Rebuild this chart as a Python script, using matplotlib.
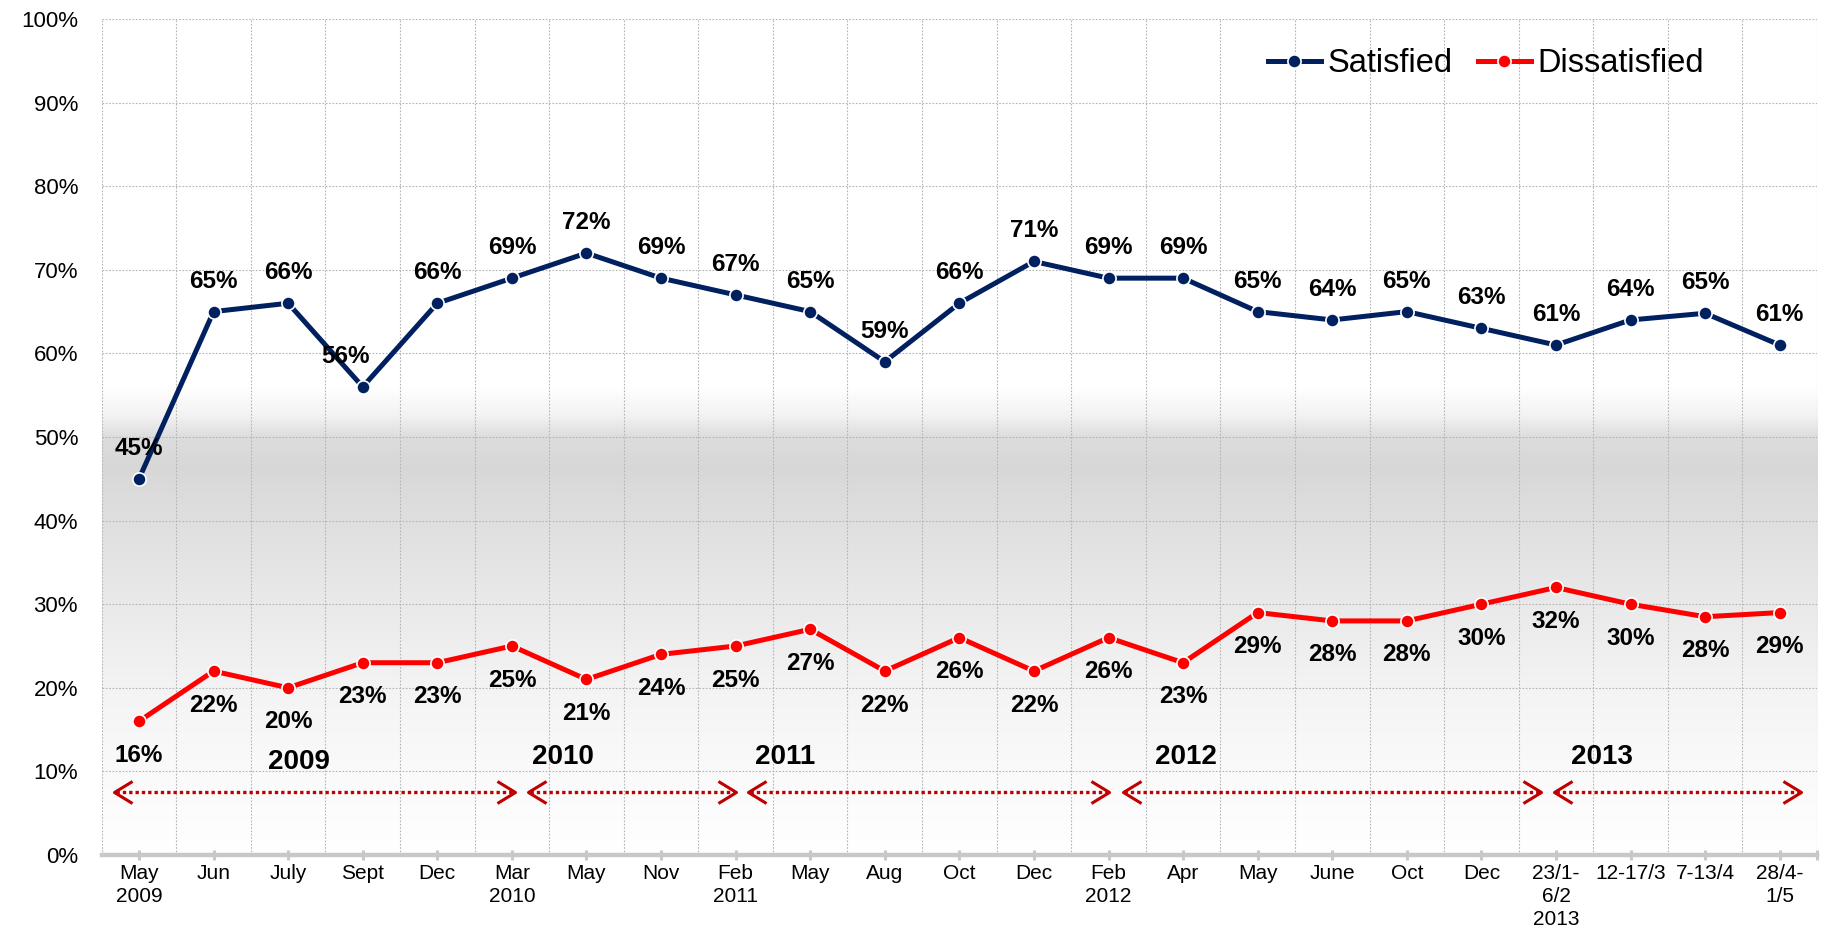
import numpy as np
import matplotlib
matplotlib.use("Agg")
import matplotlib.pyplot as plt
from matplotlib.path import Path

plt.rcParams['font.family'] = ['Liberation Sans', 'DejaVu Sans']

categories = ["May\n2009", "Jun", "July", "Sept", "Dec", "Mar\n2010", "May", "Nov",
              "Feb\n2011", "May", "Aug", "Oct", "Dec", "Feb\n2012", "Apr", "May",
              "June", "Oct", "Dec", "23/1-\n6/2\n2013", "12-17/3", "7-13/4", "28/4-\n1/5"]
satisfied = [45, 65, 66, 56, 66, 69, 72, 69, 67, 65, 59, 66, 71, 69, 69, 65, 64, 65, 63, 61, 64, 64.8, 61]
dissatisfied = [16, 22, 20, 23, 23, 25, 21, 24, 25, 27, 22, 26, 22, 26, 23, 29, 28, 28, 30, 32, 30, 28.5, 29]
year_labels = ["2009", "2010", "2011", "2012", "2013"]
# year annotation spans, in category-index units
year_spans = [(-0.33, 5.04), (5.22, 8.0), (8.17, 13.01), (13.19, 18.8), (18.98, 22.28)]
year_text_pos = [(2.14, 11.15), (5.68, 11.75), (8.66, 11.75), (14.04, 11.75), (19.62, 11.75)]

NAVY = "#002060"
RED = "#FF0000"
ARROW = "#C00000"

fig = plt.figure(figsize=(18.24, 9.33), dpi=100)
ax = fig.add_axes([101.7 / 1824, 1 - 855 / 933, (1817 - 101.7) / 1824, (855 - 19) / 933])

n = len(categories)
x = np.arange(n)

# background gradient
stops_y = [0.0, 0.10, 0.20, 0.30, 0.40, 0.465, 0.50, 0.525, 0.56, 1.0]
stops_c = [1.0, 0.98, 0.955, 0.915, 0.875, 0.845, 0.865, 0.95, 1.0, 1.0]
yy = np.linspace(0, 1, 500)
grad = np.interp(yy, stops_y, stops_c)[:, None] * np.ones((1, 2))
ax.imshow(np.dstack([grad, grad, grad]), extent=(-0.5, n - 0.5, 0, 1), origin='lower',
          aspect='auto', zorder=0, interpolation='bilinear')

ax.set_xlim(-0.5, n - 0.5)
ax.set_ylim(0, 1)

# grid
ax.set_yticks(np.arange(0, 1.01, 0.1))
ax.set_yticklabels([f"{int(round(v * 100))}%" for v in np.arange(0, 1.01, 0.1)])
for gy in np.arange(0.1, 1.01, 0.1):
    ax.axhline(gy, color="#b4b4b4", lw=0.8, ls=(0, (1.5, 1.5)), zorder=1)
for gx in np.arange(-0.5, n, 1.0):
    ax.axvline(gx, color="#b4b4b4", lw=0.8, ls=(0, (1.5, 1.5)), zorder=1)

for s in ['top', 'right', 'left']:
    ax.spines[s].set_visible(False)
ax.spines['bottom'].set_color("#c8c8c8")
ax.spines['bottom'].set_linewidth(3.2)
ax.spines['bottom'].set_zorder(2)

ax.set_xticks(x)
ax.set_xticklabels(categories, fontsize=15, linespacing=1.25)
ax.set_xticks([n - 0.5], minor=True)
ax.tick_params(axis='x', which='both', direction='inout', length=7, width=2.2,
               color="#c8c8c8", pad=3)
ax.tick_params(axis='y', length=0, pad=17, labelsize=16)

# lines
ax.plot(x, np.array(satisfied) / 100, color=NAVY, lw=3.6, marker='o', ms=9.5,
        mfc=NAVY, mec='white', mew=1.2, zorder=5, label="Satisfied")
ax.plot(x, np.array(dissatisfied) / 100, color=RED, lw=3.6, marker='o', ms=9.5,
        mfc=RED, mec='white', mew=1.2, zorder=5, label="Dissatisfied")

label_dx = {3: -12.5}
for i, v in enumerate(satisfied):
    ax.annotate(f"{int(round(v))}%", (i, v / 100), xytext=(label_dx.get(i, 0), 22),
                textcoords='offset points', ha='center', va='center',
                fontsize=17.5, fontweight='bold', zorder=6)
for i, v in enumerate(dissatisfied):
    ax.annotate(f"{int(round(v))}%", (i, v / 100), xytext=(0, -24.5),
                textcoords='offset points', ha='center', va='center',
                fontsize=17.5, fontweight='bold', zorder=6)

# year arrows
chev_left = Path([(1, 0.61), (0, 0), (1, -0.61)], [Path.MOVETO, Path.LINETO, Path.LINETO])
chev_right = Path([(-1, 0.61), (0, 0), (-1, -0.61)], [Path.MOVETO, Path.LINETO, Path.LINETO])
ay = 0.075
for (a, b) in year_spans:
    ax.plot([a + 0.02, b - 0.02], [ay, ay], color=ARROW, lw=2.4, ls=(0, (1, 0.9)),
            dash_capstyle='butt', zorder=4)
    ax.plot([a], [ay], marker=chev_left, ms=26, mfc='none', mec=ARROW, mew=2.2,
            ls='none', zorder=4)
    ax.plot([b], [ay], marker=chev_right, ms=26, mfc='none', mec=ARROW, mew=2.2,
            ls='none', zorder=4)
for lab, (tx, ty) in zip(year_labels, year_text_pos):
    ax.text(tx, ty / 100, lab, ha='center', va='center', fontsize=20,
            fontweight='bold', zorder=6)

leg = fig.legend(loc='center', bbox_to_anchor=(1486 / 1824, 1 - 64 / 933), ncol=2,
                 frameon=False, fontsize=23.5, handlelength=1.6, handletextpad=0.2,
                 columnspacing=0.8, borderpad=0, borderaxespad=0, numpoints=1)

fig.savefig("out.png", dpi=100)
